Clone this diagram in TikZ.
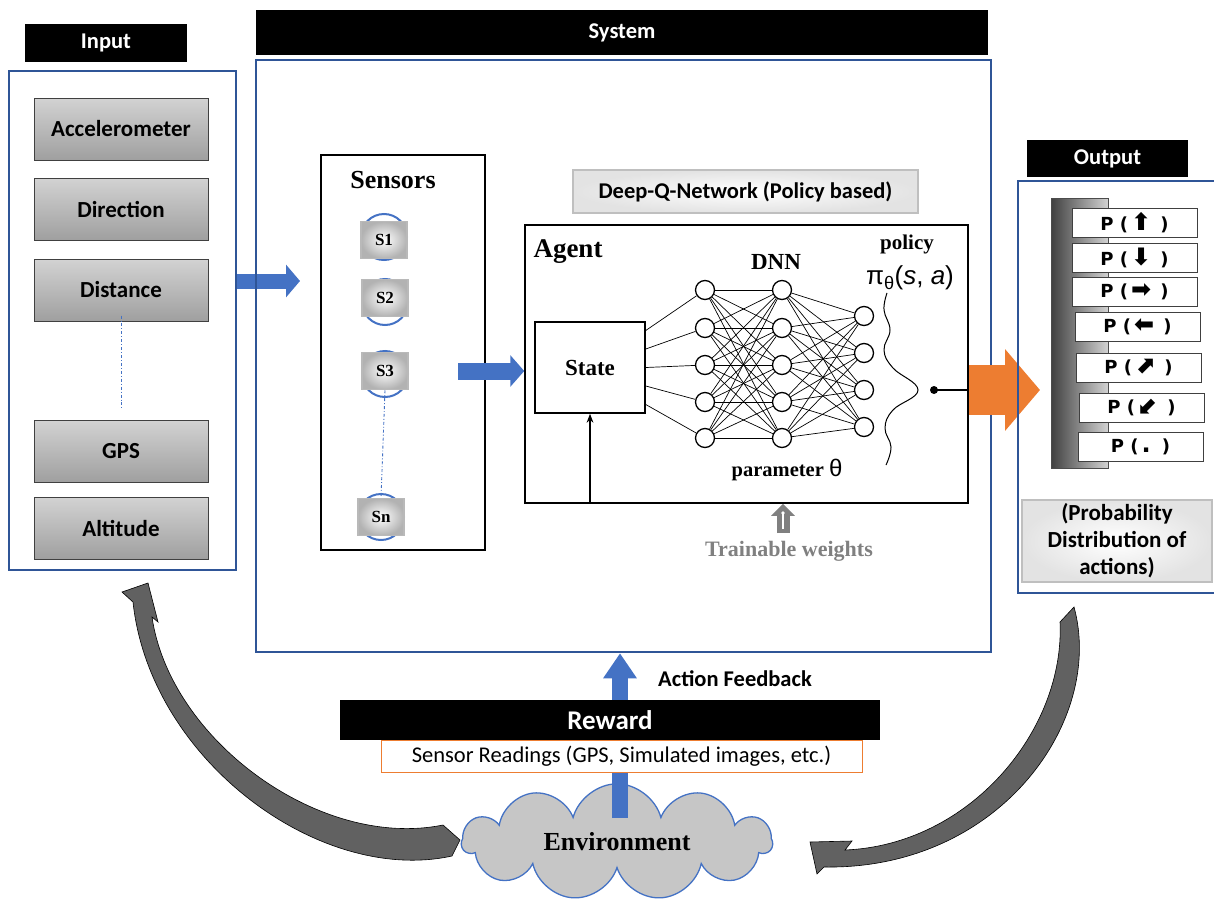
\documentclass[tikz,border=0pt]{standalone}
\usepackage{fontspec}
\setmainfont{Liberation Serif}
\newfontfamily\calib{Carlito}
\newfontfamily\dejavu{DejaVu Sans}
\newfontfamily\arialf{Liberation Sans}
\usetikzlibrary{positioning, calc, shapes.symbols, arrows.meta}
\definecolor{frameblue}{HTML}{2F5597}
\definecolor{arrowblue}{HTML}{4472C4}
\definecolor{arroworange}{HTML}{ED7D31}

\begin{document}
\begin{tikzpicture}[x=1pt, y=-1pt,
  header/.style={fill=black, text=white, inner sep=0pt, font=\calib\bfseries\fontsize{22.5}{24}\selectfont},
  frame/.style={draw=frameblue, line width=2.5pt, inner sep=0pt},
  inbox/.style={draw=black!75, line width=1pt, top color=gray!35, bottom color=gray!75, minimum width=174pt, minimum height=62pt, font=\calib\bfseries\fontsize{23}{26}\selectfont},
  plain/.style={draw=black, line width=1.5pt, inner sep=0pt},
  sbox/.style={draw=gray!55, line width=1.5pt, inner color=white, outer color=gray!60, minimum width=46pt, minimum height=37pt, font=\bfseries\fontsize{17}{18}\selectfont},
  glow/.style={draw=gray!50, line width=2pt, inner color=white, outer color=gray!22, inner sep=0pt},
  neuron/.style={circle, draw, line width=1.3pt, fill=white, minimum size=19pt, inner sep=0pt},
  nnline/.style={line width=0.7pt},
  pbox/.style={draw=black!75, line width=1pt, fill=white, minimum width=125pt, minimum height=29pt, inner sep=0pt, font=\dejavu\bfseries\fontsize{18}{20}\selectfont},
  serifb/.style={font=\bfseries\fontsize{#1}{#1}\selectfont},
  serifb/.default=20,
  bluearrow/.style={arrowblue, line width=15pt, -{Triangle[length=14pt, width=32pt]}},
  bendarrow/.style={fill=black!62, draw=black, line width=0.6pt},
]
\useasboundingbox (0,0) rectangle (1214,899);

% input side
\node[header, minimum width=162pt, minimum height=38pt] (inhead) at (106,43) {Input};
\node[frame, minimum width=227pt, minimum height=499pt] (input) at (122.5,320.5) {};
\node[inbox] (acc) at (121,129) {Accelerometer};
\node[inbox] (dir) at (121,209) {Direction};
\node[inbox] (dist) at (121,290) {Distance};
\node[inbox] (gps) at (121,451) {GPS};
\node[inbox] (alt) at (121,528) {Altitude};
\draw[arrowblue, line width=0.9pt, dash dot] ([yshift=6pt]dist.south) -- ([yshift=10pt]gps.north);

% system
\node[header, minimum width=732pt, minimum height=45pt] (syshead) at (622,32.5) {System};
\coordinate (inarr) at (300,281);
\draw[bluearrow] (input.east |- inarr) -- (inarr);
\node[frame, minimum width=735pt, minimum height=592pt] (sys) at (623.5,356) {};

\node[plain, minimum width=164pt, minimum height=395pt] (sensors) at (403,352.5) {};
\node[serifb=26] (senslbl) at (393,180) {Sensors};
\foreach \n/\x/\y/\d in {S1/384/240/-3, S2/385/298/4, S3/385/371/3, Sn/381/517/0} {
  \draw[arrowblue, line width=2pt] (\x,\y+\d) circle (23pt);
  \node[sbox] (\n) at (\x,\y) {\n};
}
\draw[arrowblue, line width=0.9pt, dash dot] (S3.south) -- (Sn.north);

\node[glow, minimum width=345pt, minimum height=43pt, font=\calib\bfseries\fontsize{22.5}{24}\selectfont] (dqn) at (745.5,191.5) {Deep-Q-Network (Policy based)};

\node[plain, minimum width=443pt, minimum height=278pt] (agent) at (746.5,364) {};
\node[serifb=27] (agentlbl) at (568,252) {Agent};
\node[plain, minimum width=110pt, minimum height=91pt, serifb=23] (state) at (590,367.5) {State};
\draw[line width=1.3pt, -{Stealth[length=9pt]}] (agent.south -| state.south) -- (state.south);

\coordinate (senarr) at (458,371);
\draw[bluearrow, line width=17pt, -{Triangle[length=14pt, width=31pt]}] (senarr) -- (agent.west |- senarr);

% network
\foreach \i/\y in {1/290, 2/328, 3/365, 4/402, 5/438} {
  \node[neuron] (a\i) at (705,\y) {};
  \node[neuron] (b\i) at (782,\y) {};
}
\foreach \i/\y in {1/316, 2/353, 3/390, 4/427}
  \node[neuron] (c\i) at (864,\y) {};
\foreach \i in {1,...,5} {
  \foreach \j in {1,...,5} \draw[nnline] (a\i) -- (b\j);
  \foreach \j in {1,...,4} \draw[nnline] (b\i) -- (c\j);
  \draw[nnline] ($(state.north east)!{(\i-0.5)/5}!(state.south east)$) -- (a\i);
}
\node[serifb=23] (dnn) at (776,262) {DNN};
\node[serifb=21] (policy) at (907,244) {policy};
\node[font=\arialf\fontsize{26}{28}\selectfont] (pi) at (910,278) {π\textsubscript{θ}(\textit{s}, \textit{a})};
\node[serifb=20.5] (param) at (787,470) {parameter {\arialf\mdseries\fontsize{24}{24}\selectfont θ}};
\draw[line width=1pt] plot[smooth, tension=0.7] coordinates {(887,293) (884,310) (890,330) (884,350) (893,368) (918,390) (893,410) (885,428) (891,447) (886,465)};
\coordinate (dot) at (934,390);
\fill (dot) circle (4pt);
\draw[line width=1.3pt] (dot) -- (dot -| agent.east);

\node[serifb=22, text=black!50] (twlbl) at (789,551) {Trainable weights};
\coordinate (twbase) at (783,533);
\draw[black!50, line width=13pt, -{Triangle[length=12pt, width=23pt]}] (twbase) -- (twbase |- agent.south);
\draw[white, line width=1.2pt] ([yshift=4pt]twbase) -- ([yshift=20pt]twbase);
\fill[white] ([yshift=20pt]twbase) circle (1.8pt);

% output side
\coordinate (outarr) at (1040,390);
\draw[arroworange, line width=50pt, -{Triangle[length=35pt, width=80pt]}] (dot -| agent.east) -- (outarr);
\node[header, minimum width=161pt, minimum height=37pt] (outhead) at (1107.5,158.5) {Output};
\node[frame, minimum width=202pt, minimum height=412pt] (output) at (1119,387) {};
\node[draw=black!70, left color=black!75, right color=gray!35, minimum width=57pt, minimum height=270pt, inner sep=0pt] (bar) at (1079.5,333) {};
\foreach \n/\x/\y/\s in {p1/1134.5/223/⬆, p2/1134.5/257.5/⬇, p3/1134.5/291.5/➡, p4/1137.5/326.5/⬅, p5/1138.5/367.5/⬈, p6/1141.5/407.5/⬋, p7/1140.5/446.5/.}
  \node[pbox] (\n) at (\x,\y) {P (\,{\fontsize{24}{20}\selectfont\s}\, )};
\node[glow, minimum width=190pt, minimum height=82pt, align=center, font=\calib\bfseries\fontsize{23}{27}\selectfont] (prob) at (1117,541) {(Probability\\Distribution of\\actions)};

% environment loop
\node[cloud, cloud puffs=11, aspect=3, draw=arrowblue, line width=1.3pt, fill=gray!45, minimum width=310pt, minimum height=100pt, serifb=26] (env) at (617,842) {Environment};
\coordinate (fb) at (620,818);
\draw[bluearrow, line width=16pt, -{Triangle[length=25pt, width=32pt]}] (fb) -- (fb |- sys.south);
\node[font=\calib\bfseries\fontsize{22.5}{24}\selectfont] (fblbl) at (735,679) {Action Feedback};
\node[header, minimum width=540pt, minimum height=40pt, font=\calib\bfseries\fontsize{27}{28}\selectfont] (reward) at (610,720) {Reward};
\node[draw=arroworange, fill=white, line width=1pt, minimum width=481pt, minimum height=32pt, font=\calib\fontsize{22.5}{24}\selectfont] (readings) at (621.5,756) {Sensor Readings (GPS, Simulated images, etc.)};

\fill[bendarrow] (443,825) -- (460,840) -- (452,856) .. controls (320,885) and (150,760) .. (133,602)
  -- (122,592) -- (148,583) -- (158,622) -- (152,617) .. controls (170,740) and (320,850) .. cycle;
\fill[bendarrow] (1074,607) .. controls (1105,720) and (1000,870) .. (824,867)
  -- (817,874) -- (810,842) -- (852,841) -- (845,850) .. controls (970,845) and (1065,730) .. (1060,622) -- cycle;
\end{tikzpicture}
\end{document}
